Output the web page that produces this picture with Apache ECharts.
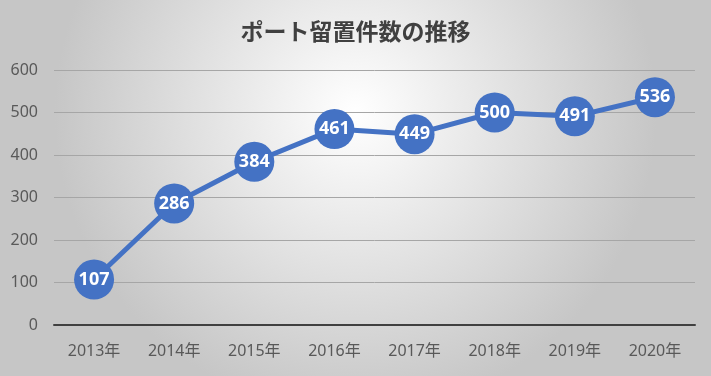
<!DOCTYPE html>
<html>
<head>
<meta charset="utf-8">
<script src="https://cdn.jsdelivr.net/npm/echarts@6/dist/echarts.min.js"></script>
<style>
  html, body { margin: 0; padding: 0; }
  #main { width: 711px; height: 376px; }
</style>
</head>
<body>
<div id="main"></div>
<script>
// 年ごとのカテゴリ
const years = ['2013年', '2014年', '2015年', '2016年', '2017年', '2018年', '2019年', '2020年'];
// 留置件数
const counts = [107, 286, 384, 461, 449, 500, 491, 536];

const font = '"Noto Sans", "Noto Sans CJK JP", sans-serif';
const myChart = echarts.init(document.getElementById('main'));
const o = {
  backgroundColor: {
    type: 'radial', x: 0.5, y: 0.3, r: 0.8,
    colorStops: [
      { offset: 0, color: '#ffffff' },
      { offset: 1, color: '#c6c6c6' }
    ]
  },
  title: {
    text: 'ポート留置件数の推移',
    left: 'center',
    top: 15,
    textStyle: { fontFamily: 'Noto Sans CJK JP', fontSize: 23, fontWeight: 'bold', color: '#404040' }
  },
  grid: { left: 54, right: 16, top: 70, bottom: 51, containLabel: false },
  xAxis: {
    type: 'category',
    data: years,
    boundaryGap: true,
    axisLine: { lineStyle: { color: '#404040', width: 2 } },
    axisTick: { show: false },
    axisLabel: { color: '#595959', fontSize: 16, margin: 18, fontFamily: font }
  },
  yAxis: {
    type: 'value',
    min: 0, max: 600, interval: 100,
    axisLine: { show: false },
    axisTick: { show: false },
    axisLabel: { color: '#595959', fontSize: 16, margin: 16, fontFamily: font },
    splitLine: { lineStyle: { color: '#a6a6a6', width: 1 } }
  },
  series: [{
    type: 'line',
    data: counts,
    symbol: 'circle',
    symbolSize: 40,
    lineStyle: { color: '#4472c4', width: 5 },
    itemStyle: { color: '#4472c4' },
    label: {
      show: true,
      position: 'inside',
      color: '#ffffff',
      fontSize: 18,
      fontWeight: 'bold',
      fontFamily: font
    }
  }]
};
myChart.setOption(o);
</script>
</body>
</html>
